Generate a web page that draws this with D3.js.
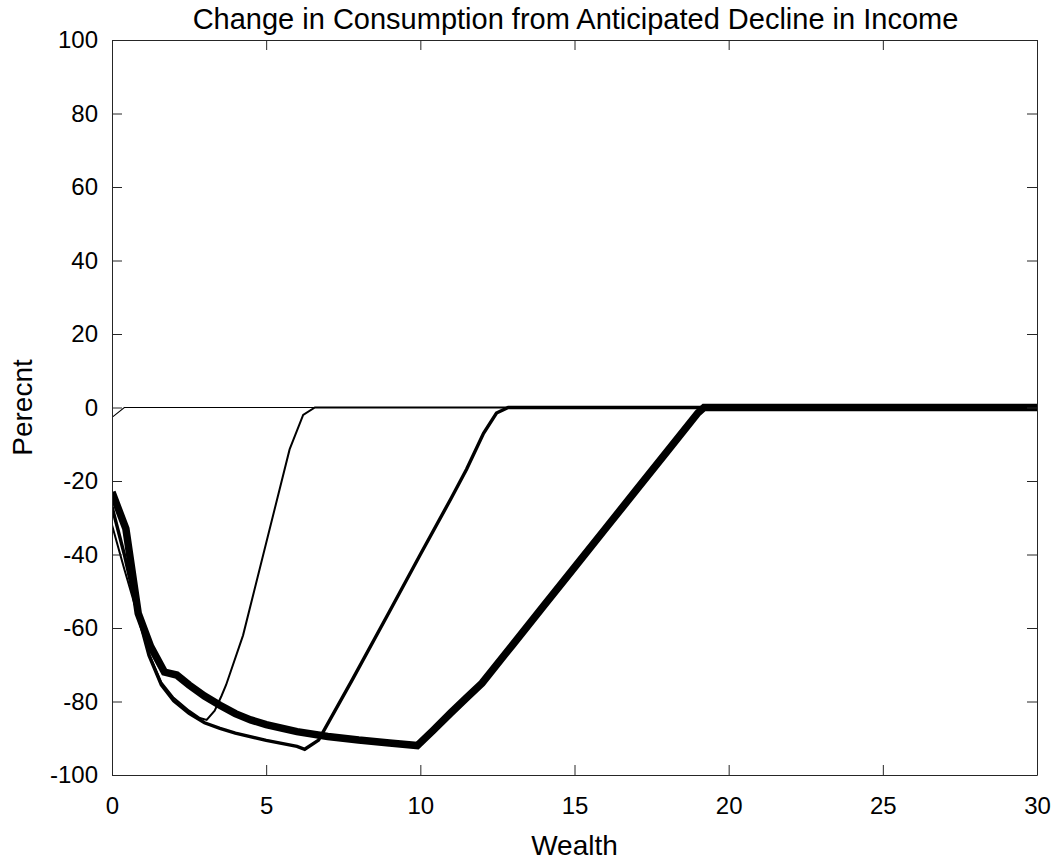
<!DOCTYPE html>
<html>
<head>
<meta charset="utf-8">
<script src="https://cdn.jsdelivr.net/npm/d3@7"></script>
<style>
  html, body { margin: 0; padding: 0; background: #fff; }
  svg { display: block; font-family: "Liberation Sans", Arial, Helvetica, sans-serif; }
</style>
</head>
<body>
<svg id="chart" width="1058" height="861"></svg>
<script>
const titleText = "Change in Consumption from Anticipated Decline in Income";
const xLabel = "Wealth";
const yLabel = "Perecnt";
const xTicks = [0, 5, 10, 15, 20, 25, 30];
const yTicks = [-100, -80, -60, -40, -20, 0, 20, 40, 60, 80, 100];

// Series A (thinnest)
const seriesA_x = [0, 0.4, 30];
const seriesA_y = [-2.7, 0, 0];
// Series B (thin)
const seriesB_x = [0, 0.4, 0.8, 1.2, 1.6, 2, 2.5, 2.85, 3.07, 3.33, 3.55, 3.7, 4.25, 5.76, 6.2, 6.58, 30];
const seriesB_y = [-32, -44, -55.5, -67, -74.8, -79, -82.5, -84.5, -85, -82.5, -78.5, -75.5, -62, -11.4, -2, 0, 0];
// Series C (medium)
const seriesC_x = [0, 0.4, 0.8, 1.2, 1.6, 2, 2.5, 3, 3.5, 4, 5, 6, 6.25, 6.7, 7.8, 9, 10, 11, 11.5, 12.05, 12.47, 12.85, 30];
const seriesC_y = [-27, -40, -55, -67.5, -75.5, -79.8, -83.2, -85.8, -87.3, -88.6, -90.6, -92.2, -93, -90.5, -74, -55.5, -40, -24.7, -16.8, -7, -1.5, 0, 0];
// Series D (thick)
const seriesD_x = [0, 0.45, 0.85, 1.25, 1.7, 2.1, 2.5, 3, 3.5, 4, 4.5, 5, 6, 7, 8, 9, 9.9, 10.4, 11, 11.5, 12, 13, 14, 15, 16, 17, 18, 19, 19.2, 30];
const seriesD_y = [-23, -33, -56, -65, -72, -72.8, -75.5, -78.5, -81, -83.3, -85, -86.3, -88.2, -89.5, -90.5, -91.3, -92, -88, -83, -79, -75, -64.5, -54, -43.5, -33, -22.5, -12, -1.5, 0, 0];

const seriesWidths = [1.1, 2, 3.4, 7.5];

const svg = d3.select("#chart");
const L = 112, R = 1037, T = 40, B = 775;

const x = d3.scaleLinear().domain([0, 30]).range([L, R]);
const y = d3.scaleLinear().domain([-100, 100]).range([B, T]);

const axisColor = "#262626";
const FONT = "'Liberation Sans', Arial, Helvetica, sans-serif";

svg.append("defs").append("clipPath").attr("id", "clip")
  .append("rect").attr("x", L).attr("y", T).attr("width", R - L).attr("height", B - T);

const series = [
  [seriesA_x, seriesA_y],
  [seriesB_x, seriesB_y],
  [seriesC_x, seriesC_y],
  [seriesD_x, seriesD_y]
];

const line = d3.line().x(d => x(d[0])).y(d => y(d[1]));
const g = svg.append("g").attr("clip-path", "url(#clip)");
series.forEach((s, i) => {
  const pts = s[0].map((v, k) => [v, s[1][k]]);
  g.append("path").datum(pts)
    .attr("d", line)
    .attr("fill", "none")
    .attr("stroke", "#000")
    .attr("stroke-width", seriesWidths[i])
    .attr("stroke-linejoin", "miter");
});

const fmt = d => String(d);

function styleAxis(sel) {
  sel.select(".domain").attr("stroke", axisColor).attr("stroke-width", 1);
  sel.selectAll(".tick line").attr("stroke", axisColor).attr("stroke-width", 1);
  sel.selectAll(".tick text").attr("fill", "#000").style("font-size", "24px")
    .style("font-family", FONT);
}

const xb = svg.append("g").attr("transform", `translate(0,${B})`)
  .call(d3.axisBottom(x).tickValues(xTicks).tickFormat(fmt).tickSizeInner(-10).tickSizeOuter(0).tickPadding(22));
styleAxis(xb);
const xt = svg.append("g").attr("transform", `translate(0,${T})`)
  .call(d3.axisTop(x).tickValues(xTicks).tickSizeInner(-10).tickSizeOuter(0).tickFormat(""));
styleAxis(xt);
const yl = svg.append("g").attr("transform", `translate(${L},0)`)
  .call(d3.axisLeft(y).tickValues(yTicks).tickFormat(fmt).tickSizeInner(-10).tickSizeOuter(0).tickPadding(14));
styleAxis(yl);
const yr = svg.append("g").attr("transform", `translate(${R},0)`)
  .call(d3.axisRight(y).tickValues(yTicks).tickSizeInner(-10).tickSizeOuter(0).tickFormat(""));
styleAxis(yr);

svg.append("text").attr("x", (L + R) / 2 + 1).attr("y", 29)
  .attr("text-anchor", "middle").style("font-size", "29px").style("font-family", FONT).text(titleText);
svg.append("text").attr("x", (L + R) / 2).attr("y", 855)
  .attr("text-anchor", "middle").style("font-size", "28px").style("font-family", FONT).text(xLabel);
svg.append("text").attr("transform", `translate(32,${(T + B) / 2}) rotate(-90)`)
  .attr("text-anchor", "middle").style("font-size", "28px").style("font-family", FONT).text(yLabel);
</script>
</body>
</html>
